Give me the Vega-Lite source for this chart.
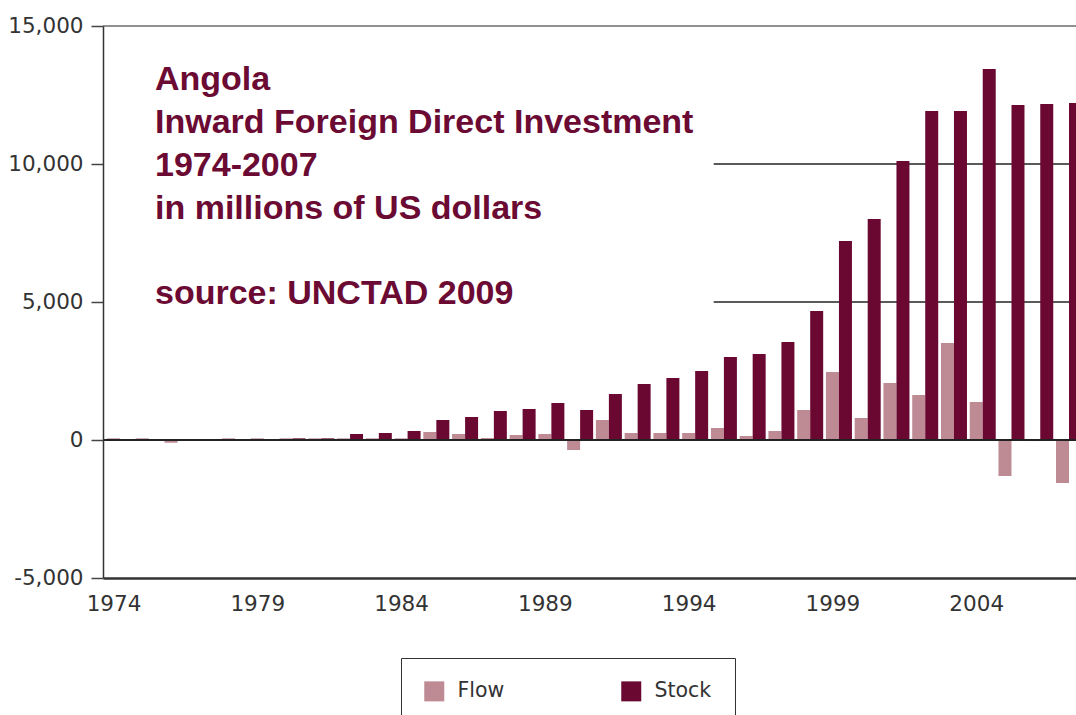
{
  "$schema": "https://vega.github.io/schema/vega-lite/v6.json",
  "autosize": "none",
  "padding": {"left": 103, "top": 26, "right": 0, "bottom": 137},
  "width": 973,
  "height": 552,
  "background": "white",
  "title": {
    "text": ["Angola", "Inward Foreign Direct Investment", "1974-2007", "in millions of US dollars"],
    "subtitle": "source: UNCTAD 2009",
    "anchor": "start",
    "frame": "group",
    "orient": "top",
    "baseline": "top",
    "dx": 52,
    "dy": 300,
    "font": "Liberation Sans",
    "fontSize": 34,
    "fontWeight": "bold",
    "color": "#6b0a33",
    "lineHeight": 43,
    "subtitleFont": "Liberation Sans",
    "subtitleFontSize": 34,
    "subtitleFontWeight": "bold",
    "subtitleColor": "#6b0a33",
    "subtitleLineHeight": 43,
    "subtitlePadding": 51
  },
  "config": {"view": {"stroke": null}},
  "resolve": {"scale": {"x": "independent"}},
  "encoding": {
    "y": {
      "field": "value",
      "type": "quantitative",
      "scale": {"domain": [-5000, 15000], "nice": false},
      "axis": {
        "values": [-5000, 0, 5000, 10000, 15000],
        "labelExpr": "datum.value < 0 ? '-' + format(-datum.value, ',') : format(datum.value, ',')",
        "title": null,
        "grid": false,
        "domainColor": "#333333",
        "domainWidth": 1.5,
        "tickColor": "#444444",
        "tickSize": 12,
        "tickWidth": 1.5,
        "labelFont": "DejaVu Sans",
        "labelFontSize": 21.5,
        "labelColor": "#333333",
        "labelPadding": 8,
        "zindex": 1
      }
    }
  },
  "layer": [
    {
      "data": {"values": [{"value": 15000}, {"value": 10000}, {"value": 5000}]},
      "mark": {"type": "rule"},
      "encoding": {
        "color": {"condition": {"test": "datum.value === 15000", "value": "#222222"}, "value": "#5a5a5a"},
        "strokeWidth": {"condition": {"test": "datum.value === 15000", "value": 1}, "value": 2}
      }
    },
    {
      "data": {
        "values": [
          {"year": 1974, "series": "Flow", "value": 60},
          {"year": 1975, "series": "Flow", "value": 60},
          {"year": 1976, "series": "Flow", "value": -100},
          {"year": 1977, "series": "Flow", "value": 0},
          {"year": 1978, "series": "Flow", "value": 60},
          {"year": 1979, "series": "Flow", "value": 60},
          {"year": 1980, "series": "Flow", "value": 60},
          {"year": 1981, "series": "Flow", "value": 60},
          {"year": 1982, "series": "Flow", "value": 60},
          {"year": 1983, "series": "Flow", "value": 60},
          {"year": 1984, "series": "Flow", "value": 60},
          {"year": 1985, "series": "Flow", "value": 290},
          {"year": 1986, "series": "Flow", "value": 217},
          {"year": 1987, "series": "Flow", "value": 72},
          {"year": 1988, "series": "Flow", "value": 181},
          {"year": 1989, "series": "Flow", "value": 217},
          {"year": 1990, "series": "Flow", "value": -362},
          {"year": 1991, "series": "Flow", "value": 725},
          {"year": 1992, "series": "Flow", "value": 254},
          {"year": 1993, "series": "Flow", "value": 254},
          {"year": 1994, "series": "Flow", "value": 254},
          {"year": 1995, "series": "Flow", "value": 435},
          {"year": 1996, "series": "Flow", "value": 145},
          {"year": 1997, "series": "Flow", "value": 326},
          {"year": 1998, "series": "Flow", "value": 1087},
          {"year": 1999, "series": "Flow", "value": 2464},
          {"year": 2000, "series": "Flow", "value": 797},
          {"year": 2001, "series": "Flow", "value": 2065},
          {"year": 2002, "series": "Flow", "value": 1630},
          {"year": 2003, "series": "Flow", "value": 3514},
          {"year": 2004, "series": "Flow", "value": 1377},
          {"year": 2005, "series": "Flow", "value": -1304},
          {"year": 2006, "series": "Flow", "value": -38},
          {"year": 2007, "series": "Flow", "value": -1558},
          {"year": 1980, "series": "Stock", "value": 60},
          {"year": 1981, "series": "Stock", "value": 60},
          {"year": 1982, "series": "Stock", "value": 217},
          {"year": 1983, "series": "Stock", "value": 254},
          {"year": 1984, "series": "Stock", "value": 326},
          {"year": 1985, "series": "Stock", "value": 725},
          {"year": 1986, "series": "Stock", "value": 833},
          {"year": 1987, "series": "Stock", "value": 1050},
          {"year": 1988, "series": "Stock", "value": 1123},
          {"year": 1989, "series": "Stock", "value": 1340},
          {"year": 1990, "series": "Stock", "value": 1087},
          {"year": 1991, "series": "Stock", "value": 1667},
          {"year": 1992, "series": "Stock", "value": 2029},
          {"year": 1993, "series": "Stock", "value": 2246},
          {"year": 1994, "series": "Stock", "value": 2500},
          {"year": 1995, "series": "Stock", "value": 3007},
          {"year": 1996, "series": "Stock", "value": 3116},
          {"year": 1997, "series": "Stock", "value": 3550},
          {"year": 1998, "series": "Stock", "value": 4674},
          {"year": 1999, "series": "Stock", "value": 7210},
          {"year": 2000, "series": "Stock", "value": 8007},
          {"year": 2001, "series": "Stock", "value": 10108},
          {"year": 2002, "series": "Stock", "value": 11920},
          {"year": 2003, "series": "Stock", "value": 11920},
          {"year": 2004, "series": "Stock", "value": 13442},
          {"year": 2005, "series": "Stock", "value": 12138},
          {"year": 2006, "series": "Stock", "value": 12174},
          {"year": 2007, "series": "Stock", "value": 12210}
        ]
      },
      "mark": {"type": "bar", "clip": true},
      "encoding": {
        "x": {
          "field": "year",
          "type": "ordinal",
          "scale": {"type": "band", "range": [0, 983], "paddingInner": 0.096, "paddingOuter": 0.139},
          "axis": {
            "values": [1974, 1979, 1984, 1989, 1994, 1999, 2004],
            "title": null,
            "labelAngle": 0,
            "ticks": false,
            "grid": false,
            "labelOffset": -6,
            "domainColor": "#333333",
            "domainWidth": 2.5,
            "labelFont": "DejaVu Sans",
            "labelFontSize": 21.5,
            "labelColor": "#333333",
            "labelPadding": 15,
            "zindex": 1
          }
        },
        "xOffset": {"field": "series", "type": "nominal", "sort": ["Flow", "Stock"], "scale": {"paddingInner": 0, "paddingOuter": 0}},
        "color": {
          "field": "series",
          "type": "nominal",
          "scale": {"domain": ["Flow", "Stock"], "range": ["#be8a94", "#6b0832"]},
          "legend": {
            "title": null,
            "orient": "none",
            "legendX": 298,
            "legendY": 632,
            "direction": "horizontal",
            "strokeColor": "#333333",
            "fillColor": "white",
            "padding": 23,
            "symbolType": "square",
            "symbolSize": 400,
            "symbolStrokeWidth": 0,
            "labelFont": "DejaVu Sans",
            "labelFontSize": 20.5,
            "labelColor": "#333333",
            "labelOffset": 13,
            "columnPadding": 116
          }
        }
      }
    },
    {
      "data": {"values": [{"from": 1973, "to": 1995.1, "value": 4000, "high": 14200}]},
      "mark": {"type": "rect", "color": "white"},
      "encoding": {
        "x": {"field": "from", "type": "quantitative", "scale": {"domain": [1973.861, 2007.7], "clamp": true}, "axis": null},
        "x2": {"field": "to"},
        "y2": {"field": "high"}
      }
    },
    {
      "data": {"values": [{"value": 0}]},
      "mark": {"type": "rule", "color": "#222222", "strokeWidth": 2},
      "encoding": {}
    }
  ]
}
